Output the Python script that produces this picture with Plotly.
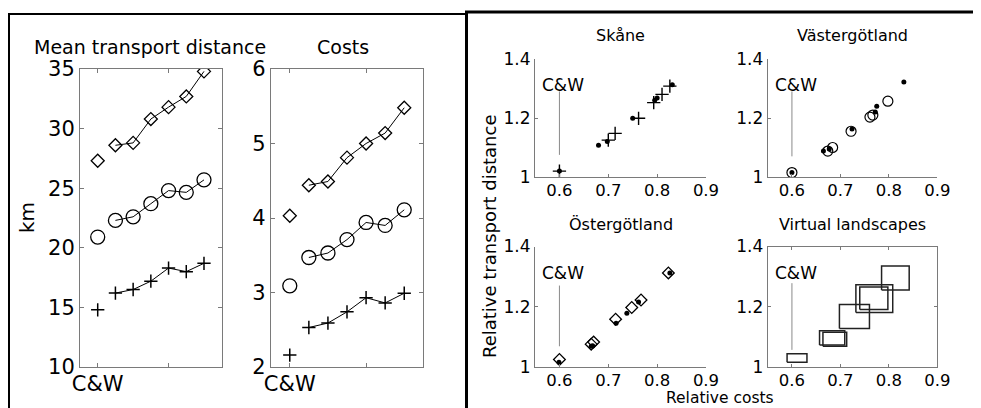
import plotly.graph_objects as go

# ---------------- data ----------------
scen_pos = [0, 1, 2, 3, 4, 5, 6]          # 0 = C&W, 1..6 = scenarios
dist_diamond = [27.3, 28.6, 28.8, 30.8, 31.8, 32.7, 34.8]
dist_circle = [20.9, 22.3, 22.6, 23.7, 24.8, 24.65, 25.7]
dist_cross = [14.8, 16.2, 16.5, 17.2, 18.3, 18.0, 18.7]
cost_diamond = [4.03, 4.44, 4.49, 4.81, 5.0, 5.14, 5.48]
cost_circle = [3.09, 3.47, 3.53, 3.71, 3.94, 3.90, 4.11]
cost_cross = [2.16, 2.53, 2.59, 2.74, 2.93, 2.86, 2.99]

skane_plus_x = [0.600, 0.700, 0.714, 0.762, 0.793, 0.810, 0.826]
skane_plus_y = [1.020, 1.125, 1.148, 1.199, 1.252, 1.280, 1.308]
skane_dot_x = [0.600, 0.680, 0.698, 0.750, 0.795, 0.800, 0.831]
skane_dot_y = [1.020, 1.108, 1.120, 1.199, 1.260, 1.268, 1.313]

vg_circ_x = [0.600, 0.674, 0.684, 0.722, 0.761, 0.767, 0.798]
vg_circ_y = [1.015, 1.088, 1.100, 1.155, 1.203, 1.210, 1.257]
vg_dot_x = [0.600, 0.665, 0.677, 0.724, 0.772, 0.775, 0.831]
vg_dot_y = [1.015, 1.088, 1.095, 1.163, 1.220, 1.240, 1.322]

og_diam_x = [0.600, 0.665, 0.670, 0.715, 0.748, 0.767, 0.823]
og_diam_y = [1.024, 1.075, 1.082, 1.158, 1.197, 1.222, 1.312]
og_dot_x = [0.599, 0.665, 0.668, 0.716, 0.738, 0.762, 0.826]
og_dot_y = [1.015, 1.068, 1.070, 1.145, 1.178, 1.215, 1.312]

vl_x0 = [0.590, 0.657, 0.664, 0.698, 0.732, 0.740, 0.785]
vl_x1 = [0.631, 0.709, 0.713, 0.760, 0.808, 0.798, 0.842]
vl_y0 = [1.015, 1.072, 1.068, 1.127, 1.180, 1.190, 1.255]
vl_y1 = [1.043, 1.120, 1.115, 1.207, 1.273, 1.265, 1.335]

cw_x = 0.6
cw_line = {"x3": [1.075, 1.29], "x4": [1.07, 1.29], "x5": [1.068, 1.27], "x6": [1.056, 1.278]}

left_titles = ["Mean transport distance", "Costs"]
right_titles = ["Skåne", "Västergötland", "Östergötland", "Virtual landscapes"]

FONT = "DejaVu Sans"
OFF = 8                      # page body margin
W, H = 981 - OFF, 408 - OFF  # figure size so that it ends at the window edge

def px(x):
    return (x - OFF) / W

def py(y):
    return 1 - (y - OFF) / H

fig = go.Figure()

def series(x, y, sym, size, xa, ya, lines=False, width=1.3, color="black"):
    fig.add_trace(go.Scatter(
        x=x, y=y, xaxis=xa, yaxis=ya, mode="markers",
        marker=dict(symbol=sym, size=size, color=color,
                    line=dict(color=color, width=width)),
        showlegend=False, hoverinfo="skip"))
    if lines:
        fig.add_trace(go.Scatter(
            x=x[1:], y=y[1:], xaxis=xa, yaxis=ya, mode="lines",
            line=dict(color="black", width=1), showlegend=False, hoverinfo="skip"))

# left panels
for xa, ya, d, c, cr in [("x", "y", dist_diamond, dist_circle, dist_cross),
                         ("x2", "y2", cost_diamond, cost_circle, cost_cross)]:
    series(scen_pos, d, "diamond-open", 10, xa, ya, lines=True)
    series(scen_pos, c, "circle-open", 14, xa, ya, lines=True)
    series(scen_pos, cr, "cross-thin-open", 9.5, xa, ya, lines=True, width=1.5)

# right panels: C&W marker lines
for xa, ya in [("x3", "y3"), ("x4", "y4"), ("x5", "y5"), ("x6", "y6")]:
    fig.add_trace(go.Scatter(x=[cw_x, cw_x], y=cw_line[xa], xaxis=xa, yaxis=ya,
                             mode="lines", line=dict(color="#8a8a8a", width=1),
                             showlegend=False, hoverinfo="skip"))

series(skane_plus_x, skane_plus_y, "cross-thin-open", 9.5, "x3", "y3", width=1.4)
series(skane_dot_x, skane_dot_y, "circle", 5, "x3", "y3", width=0)

series(vg_circ_x, vg_circ_y, "circle-open", 10, "x4", "y4", width=1.2)
series(vg_dot_x, vg_dot_y, "circle", 5, "x4", "y4", width=0)

series(og_diam_x, og_diam_y, "diamond-open", 9, "x5", "y5", width=1.3)
series(og_dot_x, og_dot_y, "circle", 5, "x5", "y5", width=0)

for a, b, c, d in zip(vl_x0, vl_x1, vl_y0, vl_y1):
    fig.add_trace(go.Scatter(x=[a, b, b, a, a], y=[c, c, d, d, c], xaxis="x6", yaxis="y6",
                             mode="lines", line=dict(color="#222", width=1.5),
                             showlegend=False, hoverinfo="skip"))

AX = "#7a7a7a"

def left_x(dom, anchor):
    return dict(domain=dom, range=[-1, 7], tickvals=[0, 4], ticktext=["C&W", ""],
                ticks="inside", ticklen=4, tickcolor=AX, showline=True, linecolor=AX,
                mirror="ticks", showgrid=False, zeroline=False, anchor=anchor,
                automargin=False, ticklabelstandoff=-2,
                tickfont=dict(family=FONT, size=21, color="black"))

def left_y(dom, rng, vals, anchor):
    return dict(domain=dom, range=rng, tickvals=vals, ticks="inside", ticklen=4,
                tickcolor=AX, showline=True, linecolor=AX, mirror="ticks",
                showgrid=False, zeroline=False, anchor=anchor, automargin=False,
                tickfont=dict(family=FONT, size=21, color="black"))

def right_x(dom, anchor, box=False):
    return dict(domain=dom, range=[0.55, 0.9], tickvals=[0.6, 0.7, 0.8, 0.9],
                ticktext=["0.6", "0.7", "0.8", "0.9"], ticks="inside", ticklen=3,
                tickcolor=AX, showline=True, linecolor=AX,
                mirror="ticks" if box else False, showgrid=False, zeroline=False,
                anchor=anchor, ticklabelstandoff=-2, automargin=False,
                tickfont=dict(family=FONT, size=16.5, color="black"))

def right_y(dom, anchor, box=False):
    return dict(domain=dom, range=[1, 1.4], tickvals=[1, 1.2, 1.4],
                ticktext=["1", "1.2", "1.4"], ticks="inside", ticklen=3,
                tickcolor=AX, showline=True, linecolor=AX,
                mirror="ticks" if box else False, showgrid=False, zeroline=False,
                anchor=anchor, automargin=False,
                tickfont=dict(family=FONT, size=17, color="black"))

ld_y = [py(367), py(69)]
top_y = [py(177), py(59)]
bot_y = [py(366.7), py(246.5)]
rl_x = [px(535), px(706)]
rr_x = [px(767.7), px(937.3)]

fig.update_layout(
    template="none",
    width=W, height=H, margin=dict(l=0, r=0, t=0, b=0, pad=0, autoexpand=False),
    paper_bgcolor="white", plot_bgcolor="white", showlegend=False,
    xaxis=left_x([px(80), px(221.7)], "y"),
    yaxis=left_y(ld_y, [10, 35], [10, 15, 20, 25, 30, 35], "x"),
    xaxis2=left_x([px(270.7), px(423.3)], "y2"),
    yaxis2=left_y(ld_y, [2, 6], [2, 3, 4, 5, 6], "x2"),
    xaxis3=right_x(rl_x, "y3"), yaxis3=right_y(top_y, "x3"),
    xaxis4=right_x(rr_x, "y4"), yaxis4=right_y(top_y, "x4"),
    xaxis5=right_x(rl_x, "y5"), yaxis5=right_y(bot_y, "x5"),
    xaxis6=right_x(rr_x, "y6", box=True), yaxis6=right_y(bot_y, "x6", box=True),
)

ann = []
def txt(x, y, s, size, angle=0):
    ann.append(dict(x=px(x), y=py(y), xref="paper", yref="paper", text=s,
                    showarrow=False, xanchor="center", yanchor="middle", textangle=angle,
                    font=dict(family=FONT, size=size, color="black")))

txt(150, 47, left_titles[0], 19)
txt(343, 47, left_titles[1], 19)
txt(27, 218, "km", 20, -90)
txt(620.5, 35, right_titles[0], 16)
txt(852.5, 35, right_titles[1], 16)
txt(620.5, 224, right_titles[2], 16)
txt(852.5, 224, right_titles[3], 16)
txt(489, 237, "Relative transport distance", 18, -90)
txt(720, 397.5, "Relative costs", 15.5)

for xa, ya in [("x3", "y3"), ("x4", "y4"), ("x5", "y5"), ("x6", "y6")]:
    ann.append(dict(x=0.608, y=1.312, xref=xa, yref=ya, text="C&W", showarrow=False,
                    xanchor="center", yanchor="middle",
                    font=dict(family=FONT, size=17, color="black")))

fig.update_layout(annotations=ann)

fig.add_shape(type="rect", xref="paper", yref="paper",
              x0=px(9), x1=px(466), y0=py(420), y1=py(14),
              line=dict(color="black", width=2), fillcolor="rgba(0,0,0,0)")
fig.add_shape(type="rect", xref="paper", yref="paper",
              x0=px(466.5), x1=px(995), y0=py(420), y1=py(12),
              line=dict(color="black", width=3), fillcolor="rgba(0,0,0,0)")

fig.write_html("out.html")
